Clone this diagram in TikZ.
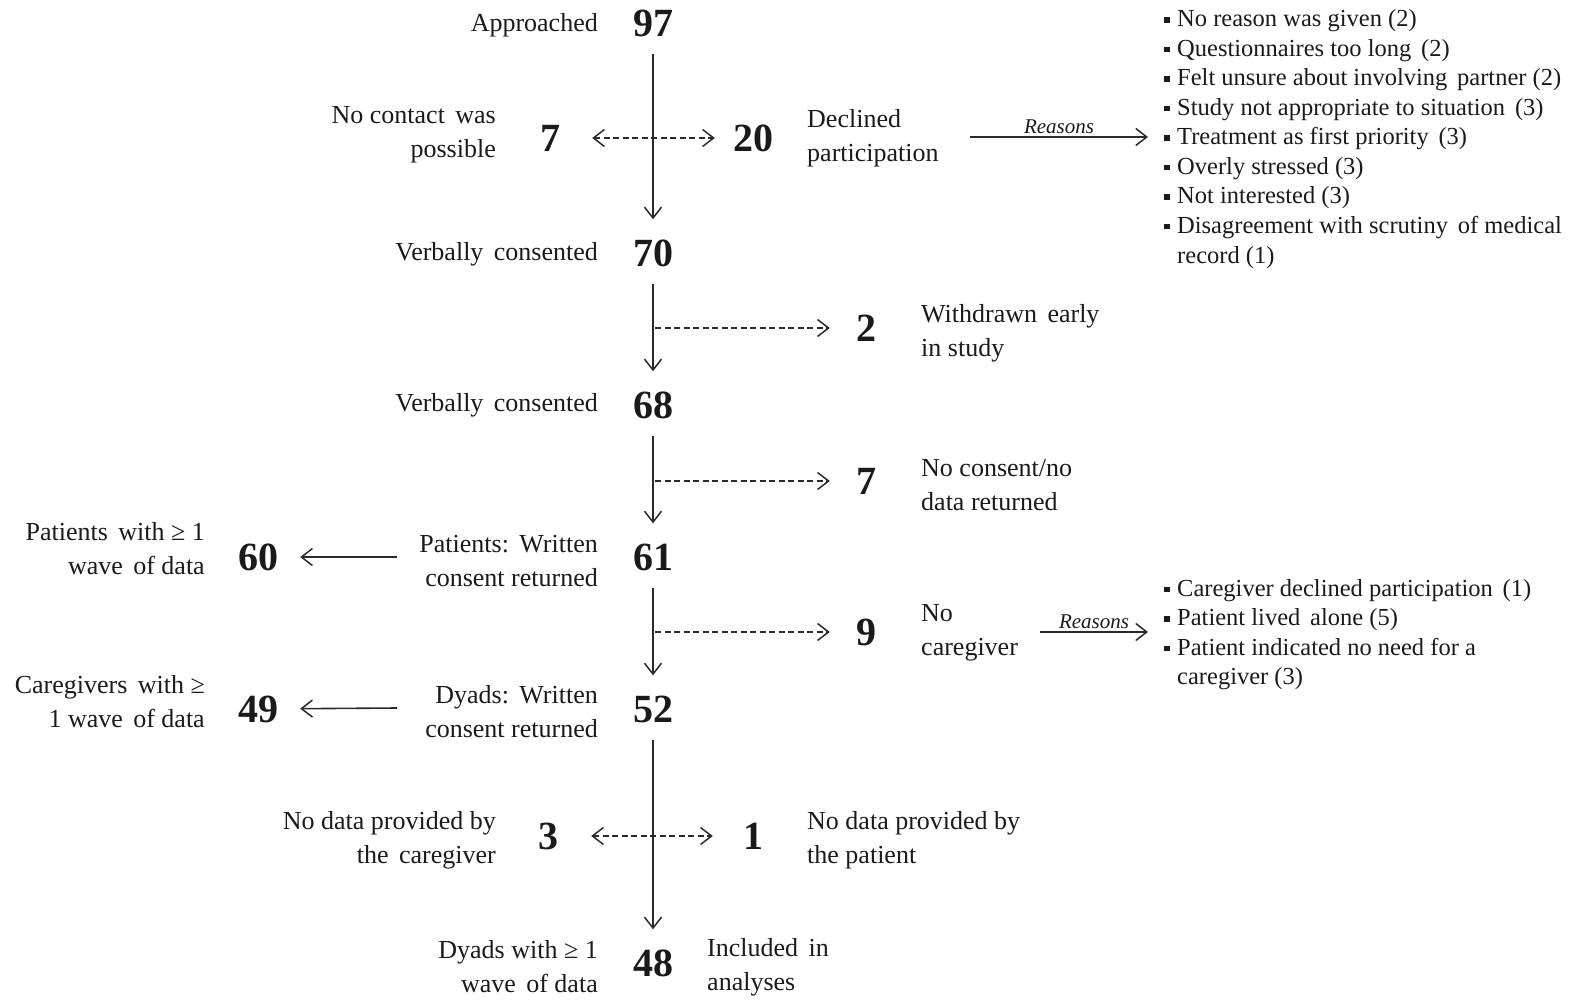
\documentclass[tikz,border=0pt]{standalone}
\usepackage{fontspec}
\setmainfont{Liberation Serif}
\usetikzlibrary{arrows.meta}
\definecolor{ink}{HTML}{1A1A1A}
\definecolor{wire}{HTML}{2A2A2A}
\newcommand\sqmark{\rule[4pt]{5.5pt}{5.5pt}\hspace{7.5pt}}
\newcommand\sqindent{\hspace*{13pt}}
\newcommand\gap{\hspace{0.4em}}
\tikzset{
  num/.style={font=\fontsize{40}{40}\selectfont\bfseries, inner sep=0pt, text=ink},
  lab/.style={font=\fontsize{26}{34}\selectfont, inner sep=0pt, text=ink},
  labR/.style={lab, align=right, anchor=east},
  labL/.style={lab, align=left, anchor=west},
  item/.style={font=\fontsize{24.5}{29.5}\selectfont, inner sep=0pt, anchor=base west, text=ink},
  barb/.tip={Straight Barb[length=11pt,width=17pt,line width=1.5pt]},
  flow/.style={draw=wire, line width=1.6pt, -barb},
  side/.style={draw=wire, line width=1.5pt, dash pattern=on 6pt off 3.5pt, -barb},
  twoway/.style={side, barb-barb},
  why/.style={font=\fontsize{21}{21}\selectfont\itshape, text=ink, above, inner sep=3pt},
}
\begin{document}
\begin{tikzpicture}[x=1pt,y=-1pt]
\useasboundingbox (0,0) rectangle (1573,1008);

% counts along the main column and the side branches
\node[num] (n97) at (653,23) {97};
\node[num] (n7a) at (550,138) {7};
\node[num] (n20) at (753,138) {20};
\node[num] (n70) at (653,253) {70};
\node[num] (n2)  at (866,328) {2};
\node[num] (n68) at (653,405) {68};
\node[num] (n7b) at (866,481) {7};
\node[num] (n61) at (653,557) {61};
\node[num] (n60) at (258,557) {60};
\node[num] (n9)  at (866,632) {9};
\node[num] (n52) at (653,709) {52};
\node[num] (n49) at (258,709) {49};
\node[num] (n3)  at (548,836) {3};
\node[num] (n1)  at (753,836) {1};
\node[num] (n48) at (653,963) {48};

% labels
\node[labR] (lApp)  at (598,25)  {Approached};
\node[labR] (lNoC)  at (496,135) {No contact\gap was\\possible};
\node[labL] (lDec)  at (807,138) {Declined\\participation};
\node[labR] (lVc1)  at (598,254) {Verbally\gap consented};
\node[labL] (lWd)   at (921,333) {Withdrawn\gap early\\in study};
\node[labR] (lVc2)  at (598,405) {Verbally\gap consented};
\node[labL] (lNcon) at (921,485) {No consent/no\\data returned};
\node[labR] (lPw)   at (598,561) {Patients:\gap Written\\consent returned};
\node[labR] (lP60)  at (205,549) {Patients\gap with ≥ 1\\wave\gap of data};
\node[labL] (lNoCg) at (921,633) {No\\caregiver};
\node[labR] (lDw)   at (598,712) {Dyads:\gap Written\\consent returned};
\node[labR] (lC49)  at (205,702) {Caregivers\gap with ≥\\1 wave\gap of data};
\node[labR] (lNdc)  at (496,840) {No data provided by\\the\gap caregiver};
\node[labL] (lNdp)  at (807,840) {No data provided by\\the patient};
\node[labR] (lDy)   at (598,967) {Dyads with ≥ 1\\wave\gap of data};
\node[labL] (lInc)  at (707,967) {Included\gap in\\analyses};

% reasons for declining
\foreach \i/\t in {0/{No reason was given (2)},
                   1/{Questionnaires too long\gap (2)},
                   2/{Felt unsure about involving\gap partner (2)},
                   3/{Study not appropriate to situation\gap (3)},
                   4/{Treatment as first priority\gap (3)},
                   5/{Overly stressed (3)},
                   6/{Not interested (3)},
                   7/{Disagreement with scrutiny\gap of medical}}
  \node[item] (ra\i) at (1164,27+29.5*\i) {\sqmark\t};
\node[item] (ra8) at (1164,263) {\sqindent record (1)};

% reasons for no caregiver
\foreach \i/\t in {0/{Caregiver declined participation\gap (1)},
                   1/{Patient lived\gap alone (5)},
                   2/{Patient indicated no need for a}}
  \node[item] (rb\i) at (1164,596+29.5*\i) {\sqmark\t};
\node[item] (rb3) at (1164,684.5) {\sqindent caregiver (3)};

% main flow
\draw[flow, shorten <=17pt, shorten >=20pt] (n97) -- (n70);
\draw[flow, shorten <=17pt, shorten >=20pt] (n70) -- (n68);
\draw[flow, shorten <=17pt, shorten >=20pt] (n68) -- (n61);
\draw[flow, shorten <=17pt, shorten >=20pt] (n61) -- (n52);
\draw[flow, shorten <=17pt, shorten >=20pt] (n52) -- (n48);

% side branches
\draw[twoway, shorten <=32pt, shorten >=18pt] (n7a) -- (n20);
\draw[twoway, shorten <=33pt, shorten >=30pt] (n3) -- (n1);
\coordinate (o2) at (655,328);
\coordinate (o7) at (655,481);
\coordinate (o9) at (655,632);
\draw[side, shorten >=26pt] (o2) -- (n2);
\draw[side, shorten >=26pt] (o7) -- (n7b);
\draw[side, shorten >=26pt] (o9) -- (n9);

% outcomes to the left
\coordinate (o60) at (397,557);
\coordinate (o49) at (397,708);
\draw[flow, shorten >=22pt] (o60) -- (n60);
\draw[flow, shorten >=22pt] (o49) -- (n49);

% reasons arrows
\coordinate (rs1) at (970,137);
\coordinate (re1) at (1148,137);
\coordinate (rs2) at (1040,632);
\coordinate (re2) at (1148,632);
\draw[flow, line width=1.4pt] (rs1) -- node[why] {Reasons} (re1);
\draw[flow, line width=1.4pt] (rs2) -- node[why] {Reasons} (re2);
\end{tikzpicture}
\end{document}
